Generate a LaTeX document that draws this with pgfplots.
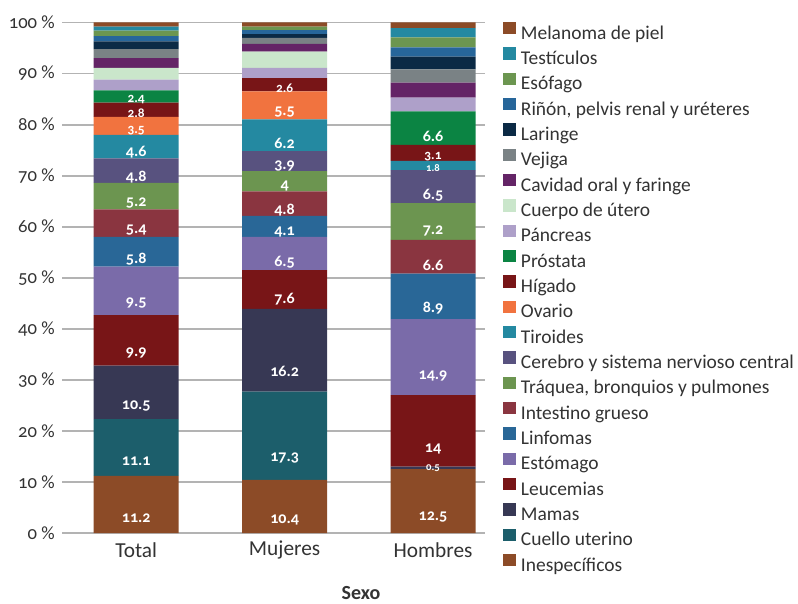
\documentclass[border=0pt]{standalone}
\usepackage{pgfplots}
\pgfplotsset{compat=1.18}
\usepackage{fontspec}
\setmainfont{Carlito}[Numbers=OldStyle]
\definecolor{txt}{HTML}{333333}
\definecolor{gridc}{HTML}{B3B3B3}
\definecolor{cInesp}{HTML}{8C4B27}
\definecolor{cCuello}{HTML}{1C5E6B}
\definecolor{cMamas}{HTML}{373854}
\definecolor{cLeuc}{HTML}{781517}
\definecolor{cEstom}{HTML}{7A6BA9}
\definecolor{cLinf}{HTML}{296797}
\definecolor{cIntest}{HTML}{8A3540}
\definecolor{cTraq}{HTML}{6C9550}
\definecolor{cCereb}{HTML}{58527F}
\definecolor{cTiro}{HTML}{2489A1}
\definecolor{cOvario}{HTML}{F1733F}
\definecolor{cHigado}{HTML}{781517}
\definecolor{cProst}{HTML}{0B8443}
\definecolor{cPancr}{HTML}{AEA0C9}
\definecolor{cCuerpo}{HTML}{CAE6CB}
\definecolor{cCavid}{HTML}{642466}
\definecolor{cVejiga}{HTML}{7A8285}
\definecolor{cLaring}{HTML}{0B2A45}
\definecolor{cRinon}{HTML}{27669A}
\definecolor{cEsof}{HTML}{6C9650}
\definecolor{cTestic}{HTML}{2489A1}
\definecolor{cMelan}{HTML}{8C4B27}
\protected\def\sm#1{{\fontsize{10}{10}\selectfont #1}}
\protected\def\xs#1{{\fontsize{8}{8}\selectfont #1}}
\begin{document}
\begin{tikzpicture}
\begin{axis}[
  x=111.3pt, y=3.829pt,
  xmin=-0.5, xmax=2.35, ymin=0, ymax=100,
  ybar stacked, bar width=63.75pt,
  axis line style={draw=none},
  tick style={draw=none},
  ymajorgrids, major grid style={gridc, line width=1.4pt},
  ytick={0,10,...,100},
  yticklabel={\pgfmathprintnumber{\tick}~\%},
  /pgf/number format/assume math mode=true,
  yticklabel style={anchor=east, inner sep=0pt, xshift=-5.25pt, font=\fontsize{14}{14}\selectfont, text=txt},
  xtick={0,1,2}, xticklabels={Total,Mujeres,Hombres},
  xticklabel style={anchor=center, yshift=-13pt, font=\fontsize{16}{16}\selectfont, text=txt},
  xlabel={\textbf{Sexo}},
  xlabel style={at={(0.707,0)}, anchor=center, yshift=-45pt, font=\fontsize{15}{15}\selectfont, text=txt},
  point meta=explicit symbolic,
  visualization depends on=rawy\as\rawy,
  nodes near coords,
  every node near coord/.append style={anchor=center, yshift=-\rawy*0.95725pt, text=white, font=\bfseries\fontsize{12}{12}\selectfont},
  reverse legend,
  legend cell align=left,
  legend image code/.code={\fill[#1] (0pt,0pt) rectangle (9.3pt,9.3pt);},
  legend style={at={(1,1)}, anchor=north west, xshift=13.5pt, yshift=0.6pt, draw=none, fill=none, inner sep=0pt,
    row sep=3.2pt, column sep=0pt,
    nodes={inner xsep=4pt, inner ysep=0pt, text height=10pt, text depth=3pt, text=txt},
    font=\fontsize{14.6}{14.6}\selectfont},
]
\coordinate (o) at (rel axis cs:0,0);
\addplot[fill=cInesp, draw=none] coordinates {(0,11.2)[11.2] (1,10.4)[10.4] (2,12.5)[12.5]};
\addlegendentry{Inespecíficos}
\addplot[fill=cCuello, draw=none] coordinates {(0,11.1)[11.1] (1,17.3)[17.3] (2,0)[]};
\addlegendentry{Cuello uterino}
\addplot[fill=cMamas, draw=none] coordinates {(0,10.5)[10.5] (1,16.2)[16.2] (2,0.5)[\xs{0.5}]};
\addlegendentry{Mamas}
\addplot[fill=cLeuc, draw=none] coordinates {(0,9.9)[9.9] (1,7.6)[7.6] (2,14)[14]};
\addlegendentry{Leucemias}
\addplot[fill=cEstom, draw=none] coordinates {(0,9.5)[9.5] (1,6.5)[6.5] (2,14.9)[14.9]};
\addlegendentry{Estómago}
\addplot[fill=cLinf, draw=none] coordinates {(0,5.8)[5.8] (1,4.1)[4.1] (2,8.9)[8.9]};
\addlegendentry{Linfomas}
\addplot[fill=cIntest, draw=none] coordinates {(0,5.4)[5.4] (1,4.8)[4.8] (2,6.6)[6.6]};
\addlegendentry{Intestino grueso}
\addplot[fill=cTraq, draw=none] coordinates {(0,5.2)[5.2] (1,4)[4] (2,7.2)[7.2]};
\addlegendentry{Tráquea, bronquios y pulmones}
\addplot[fill=cCereb, draw=none] coordinates {(0,4.8)[4.8] (1,3.9)[3.9] (2,6.5)[6.5]};
\addlegendentry{Cerebro y sistema nervioso central}
\addplot[fill=cTiro, draw=none] coordinates {(0,4.6)[4.6] (1,6.2)[6.2] (2,1.8)[\xs{1.8}]};
\addlegendentry{Tiroides}
\addplot[fill=cOvario, draw=none] coordinates {(0,3.5)[\sm{3.5}] (1,5.5)[5.5] (2,0)[]};
\addlegendentry{Ovario}
\addplot[fill=cHigado, draw=none] coordinates {(0,2.8)[\sm{2.8}] (1,2.6)[\sm{2.6}] (2,3.1)[\sm{3.1}]};
\addlegendentry{Hígado}
\addplot[fill=cProst, draw=none] coordinates {(0,2.4)[\sm{2.4}] (1,0)[] (2,6.6)[6.6]};
\addlegendentry{Próstata}
\addplot[fill=cPancr, draw=none] coordinates {(0,2.1)[] (1,2.0)[] (2,2.7)[]};
\addlegendentry{Páncreas}
\addplot[fill=cCuerpo, draw=none] coordinates {(0,2.3)[] (1,3.2)[] (2,0)[]};
\addlegendentry{Cuerpo de útero}
\addplot[fill=cCavid, draw=none] coordinates {(0,1.9)[] (1,1.5)[] (2,2.9)[]};
\addlegendentry{Cavidad oral y faringe}
\addplot[fill=cVejiga, draw=none] coordinates {(0,1.8)[] (1,1.2)[] (2,2.6)[]};
\addlegendentry{Vejiga}
\addplot[fill=cLaring, draw=none] coordinates {(0,1.5)[] (1,0.7)[] (2,2.5)[]};
\addlegendentry{Laringe}
\addplot[fill=cRinon, draw=none] coordinates {(0,1.0)[] (1,0.8)[] (2,1.8)[]};
\addlegendentry{Riñón, pelvis renal y uréteres}
\addplot[fill=cEsof, draw=none] coordinates {(0,1.1)[] (1,0.7)[] (2,2.0)[]};
\addlegendentry{Esófago}
\addplot[fill=cTestic, draw=none] coordinates {(0,0.8)[] (1,0)[] (2,1.8)[]};
\addlegendentry{Testículos}
\addplot[fill=cMelan, draw=none] coordinates {(0,0.8)[] (1,0.8)[] (2,1.1)[]};
\addlegendentry{Melanoma de piel}
\end{axis}
\pgfresetboundingbox
\path[use as bounding box] (o) ++(-46.5pt,-52.5pt) rectangle ++(598.5pt,452.25pt);
\end{tikzpicture}
\end{document}
